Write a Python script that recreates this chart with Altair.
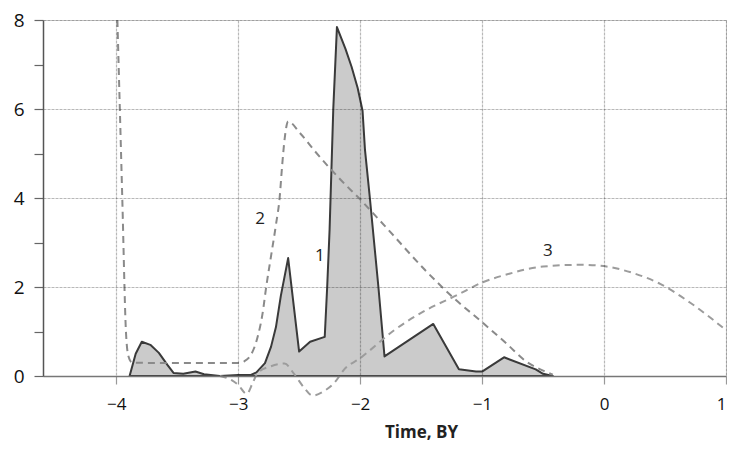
import altair as alt
import pandas as pd

# Curve 1 (filled)
c1_x = [-3.89, -3.84, -3.79, -3.72, -3.65, -3.58, -3.53, -3.45, -3.35, -3.28, -3.15, -3.0, -2.9,
        -2.85, -2.78, -2.73, -2.69, -2.65, -2.59, -2.50, -2.41, -2.29, -2.27, -2.25, -2.22, -2.19,
        -2.12, -2.07, -2.02, -1.98, -1.96, -1.92, -1.85, -1.80, -1.40, -1.19, -1.05, -1.0, -0.82,
        -0.56, -0.50, -0.42]
c1_y = [0.0, 0.5, 0.77, 0.70, 0.52, 0.25, 0.07, 0.05, 0.10, 0.04, 0.0, 0.02, 0.02,
        0.08, 0.29, 0.66, 1.1, 1.8, 2.65, 0.55, 0.77, 0.88, 2.0, 3.3, 6.0, 7.84,
        7.35, 6.95, 6.47, 5.96, 5.08, 4.0, 2.0, 0.44, 1.17, 0.15, 0.10, 0.10, 0.42,
        0.15, 0.05, 0.0]

# Curve 2 (dashed)
c2_x = [-3.99, -3.95, -3.92, -3.90, -3.87, -3.5, -3.0, -2.95, -2.89, -2.84, -2.80, -2.77, -2.73,
        -2.69, -2.66, -2.64, -2.62, -2.59, -2.49, -2.37, -2.16, -2.0, -1.80, -1.46, -1.24, -1.0,
        -0.80, -0.64, -0.50, -0.42]
c2_y = [8.0, 4.0, 1.0, 0.45, 0.30, 0.29, 0.29, 0.33, 0.5, 0.88, 1.4, 2.0, 2.7,
        3.4, 4.0, 4.7, 5.3, 5.72, 5.45, 5.05, 4.41, 3.97, 3.38, 2.36, 1.77, 1.21,
        0.73, 0.33, 0.12, 0.03]

# Curve 3 (dashed)
c3_x = [-3.15, -3.05, -3.0, -2.93, -2.88, -2.84, -2.73, -2.62, -2.54, -2.46, -2.39, -2.29, -2.21,
        -2.13, -2.0, -1.72, -1.46, -1.21, -1.0, -0.80, -0.5, -0.18, 0.02, 0.22, 0.46, 0.71, 1.0]
c3_y = [0.0, -0.1, -0.2, -0.4, -0.15, 0.07, 0.22, 0.28, 0.04, -0.26, -0.44, -0.33, -0.15,
        0.15, 0.40, 1.03, 1.48, 1.81, 2.1, 2.28, 2.46, 2.5, 2.46, 2.33, 2.07, 1.64, 1.03]

lab_text = ["2", "1", "3"]
lab_x = [-2.82, -2.33, -0.46]
lab_y = [3.53, 2.69, 2.80]

x_ticks = [-4, -3, -2, -1, 0, 1]
y_ticks = [0, 1, 2, 3, 4, 5, 6, 7, 8]

d1 = pd.DataFrame({"x": c1_x, "y": c1_y})
d2 = pd.DataFrame({"x": c2_x, "y": c2_y})
d3 = pd.DataFrame({"x": c3_x, "y": c3_y})
dl = pd.DataFrame({"x": lab_x, "y": lab_y, "t": lab_text})

FONT = "Open Sans"

X = alt.X("x:Q",
          scale=alt.Scale(domain=[-4.6, 1], nice=False, zero=False),
          axis=alt.Axis(values=x_ticks, title="Time, BY", grid=True,
                        gridColor="#000", gridOpacity=0.28, gridWidth=1.2, gridDash=[3, 1],
                        domain=True, domainColor="#777", domainWidth=1.5,
                        tickSize=8, tickColor="#999", tickWidth=1.2,
                        labelFont=FONT, labelFontSize=17, labelColor="#111", labelPadding=12,
                        titleFont=FONT, titleFontSize=17, titleFontWeight="bold", titleColor="#222",
                        titleBaseline="alphabetic", titleX=378, titleY=61, zindex=1))
Y = alt.Y("y:Q",
          scale=alt.Scale(domain=[0, 8], nice=False, zero=False),
          axis=alt.Axis(values=y_ticks, title=None, grid=True,
                        gridColor="#000", gridWidth=1.2, gridDash=[3, 1],
                        gridOpacity={"condition": {"test": "datum.value % 2 == 0 && datum.value > 0", "value": 0.28}, "value": 0},
                        domain=True, domainColor="#555", domainWidth=1.5,
                        tickSize=9, tickColor="#666", tickWidth=1.2,
                        labelExpr="datum.value % 2 == 0 ? datum.label : ''",
                        labelFont=FONT, labelFontSize=19, labelColor="#111", labelPadding=10,
                        zindex=1))

area1 = alt.Chart(d1).mark_area(fill="#cbcbcb", stroke="#3a3a3a", strokeWidth=2,
                                strokeJoin="round").encode(x=X, y=Y)
line2 = alt.Chart(d2).mark_line(color="#8a8a8a", strokeWidth=2, strokeDash=[7, 5],
                                interpolate="monotone").encode(x=X, y=Y)
line3 = alt.Chart(d3).mark_line(color="#9c9c9c", strokeWidth=2, strokeDash=[7, 5],
                                interpolate="monotone").encode(x=X, y=Y)
labels = alt.Chart(dl).mark_text(font=FONT, fontSize=17, color="#222").encode(x=X, y=Y, text="t:N")

chart = alt.layer(area1, line2, line3, labels).properties(
    width=683, height=356,
    autosize=alt.AutoSizeParams(type="none"),
    padding={"left": 35, "top": 12, "right": 1, "bottom": 66},
).configure_view(stroke=None).configure(background="white")

chart.save("out.html", embed_options={"renderer": "svg", "actions": False})
